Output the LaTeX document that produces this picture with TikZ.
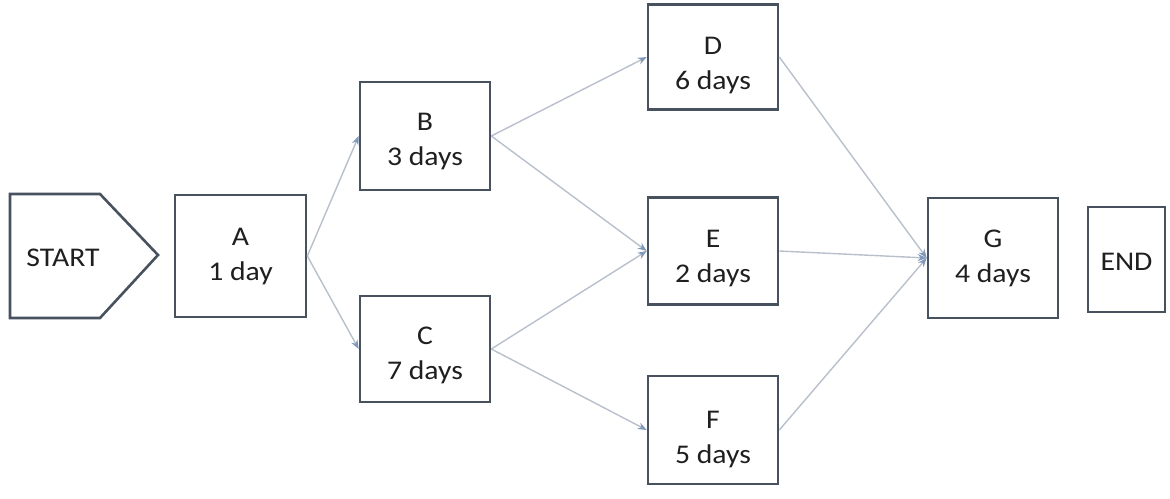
\documentclass[tikz,border=0pt]{standalone}
\usepackage{fontspec}
\setmainfont{Carlito}[FakeStretch=1.1]
\usetikzlibrary{arrows.meta}
\definecolor{boxline}{RGB}{72,82,94}
\definecolor{arrowline}{RGB}{184,192,204}
\definecolor{arrowtip}{RGB}{128,152,186}
\begin{document}
\begin{tikzpicture}[x=1pt,y=-1pt,
  task/.style={draw=boxline,line width=2.6pt,fill=white,minimum width=130pt,inner sep=0pt},
  tasktext/.style={align=center,font=\fontsize{27}{35}\selectfont,text=black!88,inner sep=0pt},
  flow/.style={draw=arrowline,line width=1.4pt,
    -{Stealth[length=9pt,width=7pt,color=arrowtip]}}]
\useasboundingbox (0,0) rectangle (1170,498);
% START
\draw[boxline,line width=2.6pt,line join=miter,fill=white]
  (10,194) -- (100,194) -- (158,255) -- (100,318) -- (10,318) -- cycle;
\node[tasktext] (start) at (63,258) {START};
% tasks
\node[task,minimum height=122pt,minimum width=131pt] (A) at (240.5,256) {};
\node[task,minimum height=108pt] (B) at (425,136) {};
\node[task,minimum height=106pt] (C) at (425,349) {};
\node[task,minimum height=105pt] (D) at (713,57) {};
\node[task,minimum height=107pt] (E) at (713,251) {};
\node[task,minimum height=108pt] (F) at (713,430) {};
\node[task,minimum height=120pt] (G) at (993,258) {};
\node[task,minimum height=105pt,minimum width=77pt] (END) at (1126.5,259.5) {};
% texts
\node[tasktext] (Alab) at ([yshift=-1pt]A.center) {A\\1 day};
\node[tasktext] (Blab) at ([yshift=-6pt]B.center) {B\\3 days};
\node[tasktext] (Clab) at ([yshift=-6pt]C.center) {C\\7 days};
\node[tasktext] (Dlab) at ([yshift=-9pt]D.center) {D\\6 days};
\node[tasktext] (Elab) at ([yshift=-8pt]E.center) {E\\2 days};
\node[tasktext] (Flab) at ([yshift=-10pt]F.center) {F\\5 days};
\node[tasktext] (Glab) at (G.center) {G\\4 days};
\node[tasktext] (ENDlab) at ([yshift=-2pt]END.center) {END};
% connectors
\draw[flow] (A.east) -- (B.west);
\draw[flow] (A.east) -- (C.west);
\draw[flow] (B.east) -- (D.west);
\draw[flow] (B.east) -- (E.west);
\draw[flow] (C.east) -- (E.west);
\draw[flow] (C.east) -- (F.west);
\draw[flow] (D.east) -- (G.west);
\draw[flow] (E.east) -- (G.west);
\draw[flow] (F.east) -- (G.west);
\end{tikzpicture}
\end{document}
